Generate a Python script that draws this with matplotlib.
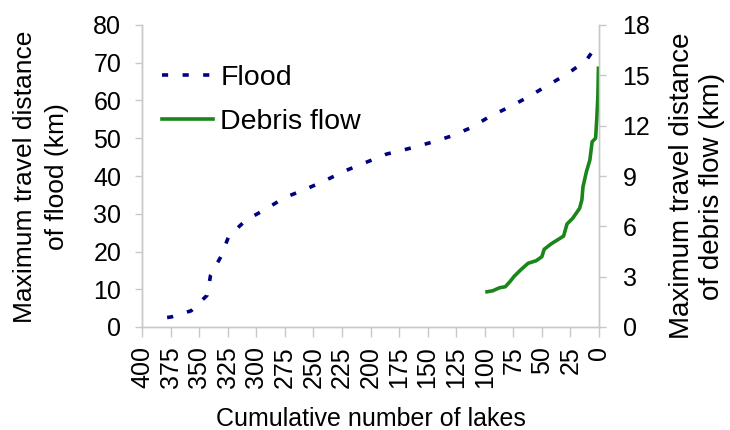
import matplotlib
matplotlib.use("Agg")
import matplotlib.pyplot as plt

plt.rcParams["font.family"] = ["Liberation Sans", "DejaVu Sans"]

# cumulative number of lakes (ranked) vs. maximum travel distance
flood_n = [378, 374, 357, 343, 340, 331, 324, 309, 293, 275, 256, 239, 222,
           204, 186, 166, 148, 129, 112, 96, 79, 64, 46, 27, 11, 1]
flood_km = [2.5, 2.7, 4.3, 8.4, 13.7, 18.6, 24.1, 28.3, 31.0, 34.3, 36.6,
            38.9, 41.4, 43.6, 45.8, 47.3, 48.8, 50.6, 52.8, 55.7, 58.2, 60.6,
            63.8, 67.2, 70.7, 75.0]

debris_n = [98, 93, 87, 82, 78, 74, 68, 62, 55, 50, 48, 42, 34, 31, 28, 23,
            17, 15, 14, 11, 8, 6, 3, 2, 1, 0.5]
debris_km = [2.1, 2.16, 2.34, 2.4, 2.7, 3.04, 3.44, 3.8, 3.95, 4.19, 4.63,
             4.95, 5.29, 5.42, 6.14, 6.48, 7.07, 7.57, 8.36, 9.26, 9.95,
             11.04, 11.25, 12.34, 13.73, 15.42]

x_ticks = list(range(400, -1, -25))
left_ticks = list(range(0, 81, 10))
right_ticks = list(range(0, 19, 3))

FLOOD_C = "#000080"
DEBRIS_C = "#1a861a"
AXIS_C = "#c8c8c8"
FS = 18

W, H = 730, 430
fig = plt.figure(figsize=(W / 100, H / 100), dpi=100)
ax = fig.add_axes([142 / W, 1 - 327 / H, 457 / W, 302 / H])
ax2 = ax.twinx()

fl, = ax.plot(flood_n, flood_km, color=FLOOD_C, lw=2.6,
              dashes=(1.7, 4.0), label="Flood")
db, = ax2.plot(debris_n, debris_km, color=DEBRIS_C, lw=2.6,
               label="Debris flow")

ax.set_xlim(400, 0)
ax.set_ylim(0, 80)
ax2.set_ylim(0, 18)
ax.set_xticks(x_ticks)
ax.set_yticks(left_ticks)
ax2.set_yticks(right_ticks)

for a in (ax, ax2):
    for s in a.spines.values():
        s.set_color(AXIS_C)
        s.set_linewidth(1.0)
    a.spines["top"].set_visible(False)

ax.tick_params(axis="x", direction="out", length=7, width=1, color=AXIS_C,
               labelsize=FS, pad=7, labelrotation=90)
ax.tick_params(axis="y", direction="out", length=5, width=1, color=AXIS_C,
               labelsize=FS, pad=10)
ax2.tick_params(axis="y", direction="out", length=5, width=1, color=AXIS_C,
                labelsize=FS, pad=12)

ax.set_xlabel("Cumulative number of lakes", fontsize=FS, labelpad=13)

# two-line axis titles on both sides
fig.text(41 / W, 1 - 177 / H, "Maximum travel distance\nof flood (km)",
         rotation=90, ha="center", va="center", fontsize=19,
         linespacing=1.45, multialignment="center")
fig.text(697 / W, 1 - 186 / H, "Maximum travel distance\nof debris flow (km)",
         rotation=90, ha="center", va="center", fontsize=20,
         linespacing=1.2, multialignment="center")

ax.legend([fl, db], ["Flood", "Debris flow"], loc="upper left",
          bbox_to_anchor=(0.044, 0.868), frameon=False, fontsize=20.5,
          handlelength=1.8, handletextpad=0.25, labelspacing=0.62,
          borderaxespad=0, borderpad=0)

fig.savefig("out.png", dpi=100)
